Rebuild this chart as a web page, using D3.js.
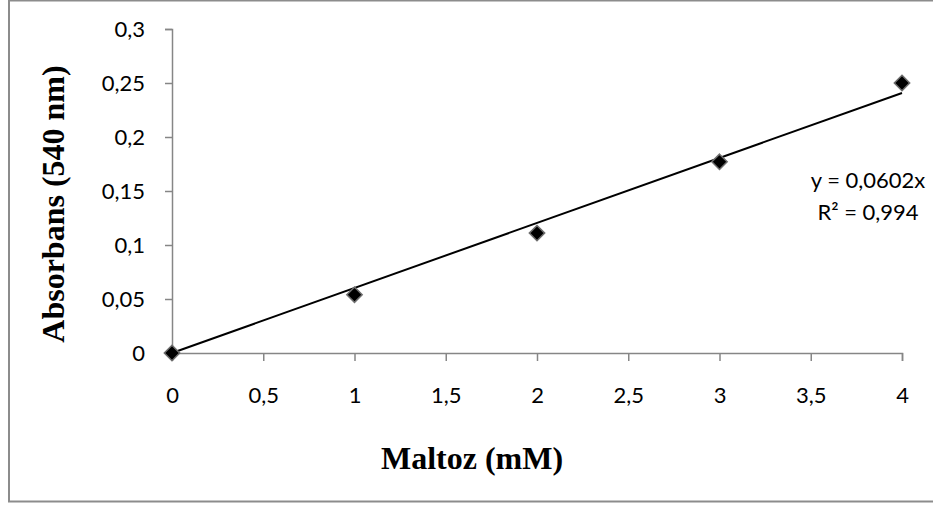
<!DOCTYPE html>
<html>
<head>
<meta charset="utf-8">
<script src="https://cdn.jsdelivr.net/npm/d3@7"></script>
<style>
  html, body { margin: 0; padding: 0; background: #fff; }
  svg { display: block; }
</style>
</head>
<body>
<svg id="chart" width="933" height="506"></svg>
<script>
// Maltose standard curve: absorbance at 540 nm vs concentration
const maltoseMM = [0, 1, 2, 3, 4];
const absorbance = [0, 0.054, 0.111, 0.177, 0.25];
const xTicks = [0, 0.5, 1, 1.5, 2, 2.5, 3, 3.5, 4];
const yTicks = [0, 0.05, 0.1, 0.15, 0.2, 0.25, 0.3];
const slope = 0.0602;
const rSquared = "0,994";

const svg = d3.select("#chart");
const fmt = v => String(v).replace(".", ",");

// outer chart frame
svg.append("rect")
  .attr("x", 9).attr("y", 0.5)
  .attr("width", 940).attr("height", 501)
  .attr("fill", "none").attr("stroke", "#8c8c8c").attr("stroke-width", 2);

const x = d3.scaleLinear().domain([0, 4]).range([172, 902]);
const y = d3.scaleLinear().domain([0, 0.3]).range([353, 29]);

const axisColor = "#868686";
const tickFont = "Lato, 'Open Sans', sans-serif";

// y axis
const gy = svg.append("g").attr("transform", `translate(${x(0)},0)`)
  .call(d3.axisLeft(y).tickValues(yTicks).tickFormat(fmt).tickSize(7).tickPadding(20));
// x axis
const gx = svg.append("g").attr("transform", `translate(0,${y(0)})`)
  .call(d3.axisBottom(x).tickValues(xTicks).tickFormat(fmt).tickSize(8).tickPadding(26));

[gx, gy].forEach(g => {
  g.select(".domain").attr("stroke", axisColor).attr("stroke-width", 1.5);
  g.selectAll(".tick line").attr("stroke", axisColor).attr("stroke-width", 1.5);
  g.selectAll(".tick text")
    .attr("fill", "#000")
    .style("font-family", tickFont)
    .style("font-size", "22px");
});
gx.select(".tick line").remove();

// linear trendline through the origin
svg.append("line")
  .attr("x1", x(0)).attr("y1", y(0))
  .attr("x2", x(4)).attr("y2", y(slope * 4))
  .attr("stroke", "#000").attr("stroke-width", 2);

// data markers
svg.append("g").selectAll("path")
  .data(maltoseMM.map((m, i) => [m, absorbance[i]]))
  .join("path")
  .attr("d", d3.symbol(d3.symbolDiamond2, 150)())
  .attr("transform", d => `translate(${x(d[0])},${y(d[1])})`)
  .attr("fill", "#000")
  .attr("stroke", "#6e6e6e")
  .attr("stroke-width", 1.5);

// equation labels
const eq = svg.append("g")
  .style("font-family", tickFont)
  .style("font-size", "22px")
  .attr("text-anchor", "middle");
eq.append("text").attr("x", 868).attr("y", 188).text(`y = ${fmt(slope)}x`);
eq.append("text").attr("x", 868).attr("y", 220).text(`R² = ${rSquared}`);

// axis titles
const titleFont = "'Liberation Serif', 'Times New Roman', serif";
svg.append("text")
  .attr("x", 472).attr("y", 469)
  .attr("text-anchor", "middle")
  .style("font-family", titleFont).style("font-weight", "bold").style("font-size", "32px")
  .text("Maltoz (mM)");
svg.append("text")
  .attr("transform", "translate(64,204) rotate(-90)")
  .attr("text-anchor", "middle")
  .style("font-family", titleFont).style("font-weight", "bold").style("font-size", "32px")
  .text("Absorbans (540 nm)");
</script>
</body>
</html>
